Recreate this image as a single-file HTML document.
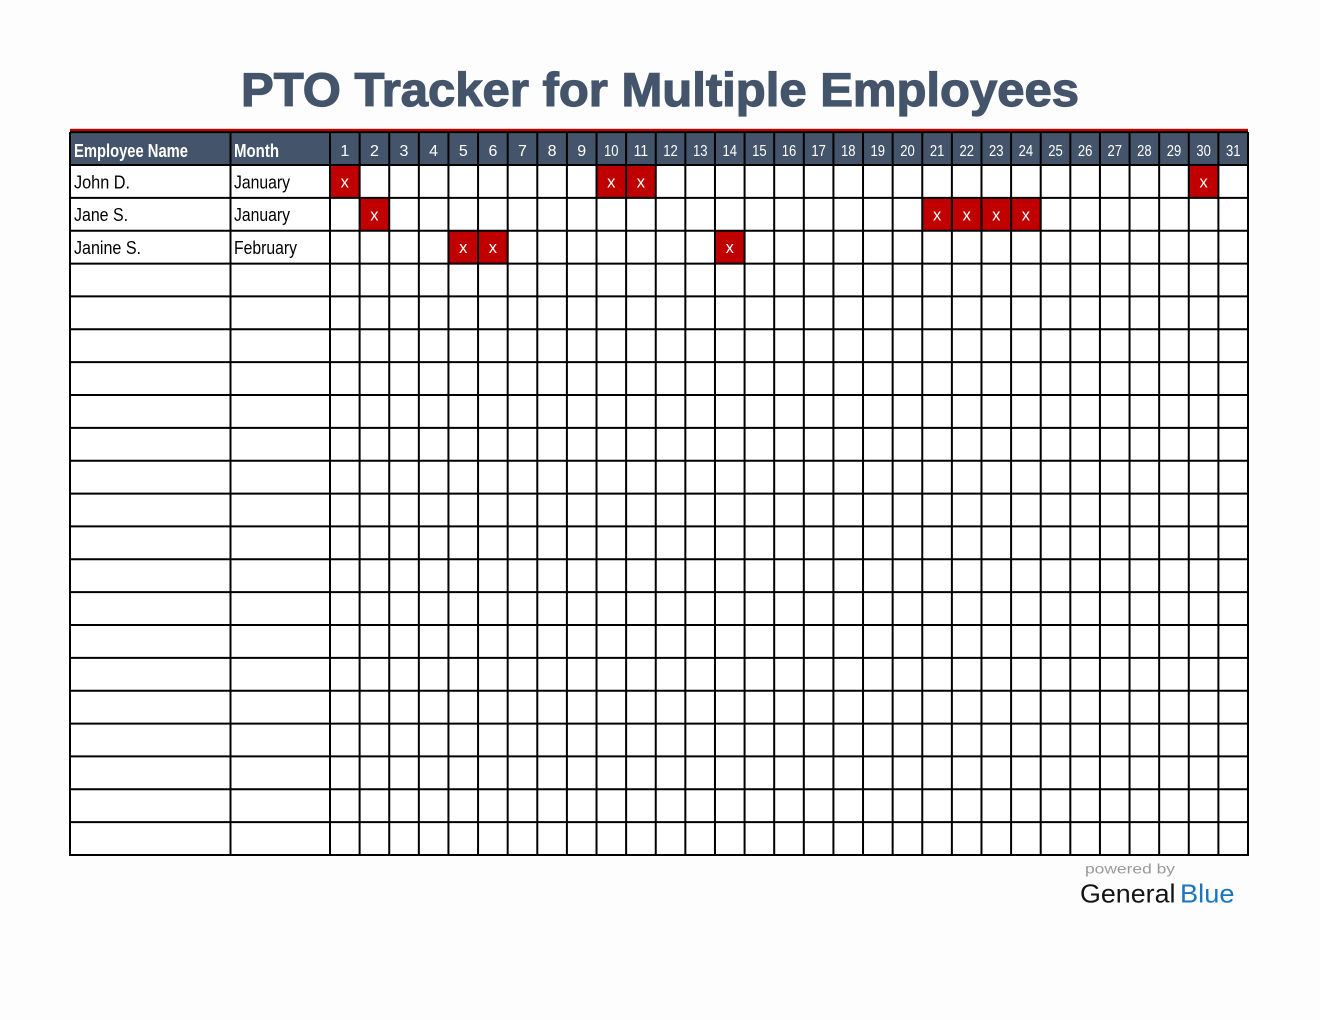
<!DOCTYPE html>
<html><head><meta charset="utf-8"><style>
html,body{margin:0;padding:0;background:#fdfdfd;}
svg{display:block;}
</style></head><body>
<svg width="1320" height="1020" viewBox="0 0 1320 1020" xmlns="http://www.w3.org/2000/svg" font-family="'Liberation Sans', Arial, sans-serif">
<rect width="1320" height="1020" fill="#fdfdfd"/>
<text x="241" y="106" font-size="47" font-weight="bold" fill="#44546a" stroke="#44546a" stroke-width="1.2" textLength="838" lengthAdjust="spacingAndGlyphs">PTO Tracker for Multiple Employees</text>

<rect x="70" y="128.8" width="1178" height="2.8" fill="#c00000"/>
<rect x="70" y="132.14" width="1178" height="32.86" fill="#44546a"/>
<rect x="70" y="165" width="1178" height="690" fill="#ffffff"/>

<g fill="#c00000">
<rect x="330" y="165" width="29.61" height="32.86"/>
<rect x="596.52" y="165" width="59.22" height="32.86"/>
<rect x="1188.77" y="165" width="29.62" height="32.86"/>
<rect x="359.61" y="197.86" width="29.62" height="32.85"/>
<rect x="922.26" y="197.86" width="118.45" height="32.85"/>
<rect x="448.45" y="230.71" width="59.23" height="32.86"/>
<rect x="714.97" y="230.71" width="29.61" height="32.86"/>
</g>

<path stroke="#000" stroke-width="2" fill="none" d="
M70 132.14H1248 M70 165H1248 M70 197.86H1248 M70 230.71H1248 M70 263.57H1248 M70 296.43H1248 M70 329.29H1248 M70 362.14H1248 M70 395H1248 M70 427.86H1248 M70 460.71H1248 M70 493.57H1248 M70 526.43H1248 M70 559.29H1248 M70 592.14H1248 M70 625H1248 M70 657.86H1248 M70 690.71H1248 M70 723.57H1248 M70 756.43H1248 M70 789.29H1248 M70 822.14H1248 M69 855H1249
M70 132.14V855 M230.5 132.14V855 M330 132.14V855 M359.61 132.14V855 M389.23 132.14V855 M418.84 132.14V855 M448.45 132.14V855 M478.06 132.14V855 M507.68 132.14V855 M537.29 132.14V855 M566.9 132.14V855 M596.52 132.14V855 M626.13 132.14V855 M655.74 132.14V855 M685.35 132.14V855 M714.97 132.14V855 M744.58 132.14V855 M774.19 132.14V855 M803.81 132.14V855 M833.42 132.14V855 M863.03 132.14V855 M892.65 132.14V855 M922.26 132.14V855 M951.87 132.14V855 M981.48 132.14V855 M1011.1 132.14V855 M1040.71 132.14V855 M1070.32 132.14V855 M1099.94 132.14V855 M1129.55 132.14V855 M1159.16 132.14V855 M1188.77 132.14V855 M1218.39 132.14V855 M1248 132.14V855"/>

<g fill="#ffffff" font-weight="bold" font-size="18">
<text x="74" y="156.8" textLength="114" lengthAdjust="spacingAndGlyphs">Employee Name</text>
<text x="234" y="156.8" textLength="45" lengthAdjust="spacingAndGlyphs">Month</text>
</g>
<g fill="#ffffff" font-size="16" text-anchor="middle">
<text x="344.8" y="156">1</text>
<text x="374.4" y="156">2</text>
<text x="404" y="156">3</text>
<text x="433.6" y="156">4</text>
<text x="463.3" y="156">5</text>
<text x="492.9" y="156">6</text>
<text x="522.5" y="156">7</text>
<text x="552.1" y="156">8</text>
<text x="581.7" y="156">9</text>
<text x="611.3" y="156" textLength="14.5" lengthAdjust="spacingAndGlyphs">10</text>
<text x="640.9" y="156" textLength="14.5" lengthAdjust="spacingAndGlyphs">11</text>
<text x="670.5" y="156" textLength="14.5" lengthAdjust="spacingAndGlyphs">12</text>
<text x="700.2" y="156" textLength="14.5" lengthAdjust="spacingAndGlyphs">13</text>
<text x="729.8" y="156" textLength="14.5" lengthAdjust="spacingAndGlyphs">14</text>
<text x="759.4" y="156" textLength="14.5" lengthAdjust="spacingAndGlyphs">15</text>
<text x="789" y="156" textLength="14.5" lengthAdjust="spacingAndGlyphs">16</text>
<text x="818.6" y="156" textLength="14.5" lengthAdjust="spacingAndGlyphs">17</text>
<text x="848.2" y="156" textLength="14.5" lengthAdjust="spacingAndGlyphs">18</text>
<text x="877.8" y="156" textLength="14.5" lengthAdjust="spacingAndGlyphs">19</text>
<text x="907.5" y="156" textLength="14.5" lengthAdjust="spacingAndGlyphs">20</text>
<text x="937.1" y="156" textLength="14.5" lengthAdjust="spacingAndGlyphs">21</text>
<text x="966.7" y="156" textLength="14.5" lengthAdjust="spacingAndGlyphs">22</text>
<text x="996.3" y="156" textLength="14.5" lengthAdjust="spacingAndGlyphs">23</text>
<text x="1025.9" y="156" textLength="14.5" lengthAdjust="spacingAndGlyphs">24</text>
<text x="1055.5" y="156" textLength="14.5" lengthAdjust="spacingAndGlyphs">25</text>
<text x="1085.1" y="156" textLength="14.5" lengthAdjust="spacingAndGlyphs">26</text>
<text x="1114.7" y="156" textLength="14.5" lengthAdjust="spacingAndGlyphs">27</text>
<text x="1144.4" y="156" textLength="14.5" lengthAdjust="spacingAndGlyphs">28</text>
<text x="1174" y="156" textLength="14.5" lengthAdjust="spacingAndGlyphs">29</text>
<text x="1203.6" y="156" textLength="14.5" lengthAdjust="spacingAndGlyphs">30</text>
<text x="1233.2" y="156" textLength="14.5" lengthAdjust="spacingAndGlyphs">31</text>
</g>

<g fill="#000" font-size="18.5">
<text x="74" y="188.3" textLength="56" lengthAdjust="spacingAndGlyphs">John D.</text>
<text x="234" y="188.3" textLength="56" lengthAdjust="spacingAndGlyphs">January</text>
<text x="74" y="221.1" textLength="54" lengthAdjust="spacingAndGlyphs">Jane S.</text>
<text x="234" y="221.1" textLength="56" lengthAdjust="spacingAndGlyphs">January</text>
<text x="74" y="254" textLength="67" lengthAdjust="spacingAndGlyphs">Janine S.</text>
<text x="234" y="254" textLength="63" lengthAdjust="spacingAndGlyphs">February</text>
</g>

<g fill="#ffffff" font-size="16.5" text-anchor="middle">
<text x="344.8" y="187.5">x</text>
<text x="611.3" y="187.5">x</text>
<text x="640.9" y="187.5">x</text>
<text x="1203.6" y="187.5">x</text>
<text x="374.4" y="220.3">x</text>
<text x="937.1" y="220.3">x</text>
<text x="966.7" y="220.3">x</text>
<text x="996.3" y="220.3">x</text>
<text x="1025.9" y="220.3">x</text>
<text x="463.3" y="253.2">x</text>
<text x="492.9" y="253.2">x</text>
<text x="729.8" y="253.2">x</text>
</g>

<text x="1085" y="873.5" font-size="14" fill="#9a9a9a" textLength="90" lengthAdjust="spacingAndGlyphs">powered by</text>
<text x="1080" y="902.7" font-size="26" fill="#141414" textLength="95.5" lengthAdjust="spacingAndGlyphs">General</text>
<text x="1180" y="902.7" font-size="26" fill="#1a75c0" textLength="54.5" lengthAdjust="spacingAndGlyphs">Blue</text>
</svg>
</body></html>
